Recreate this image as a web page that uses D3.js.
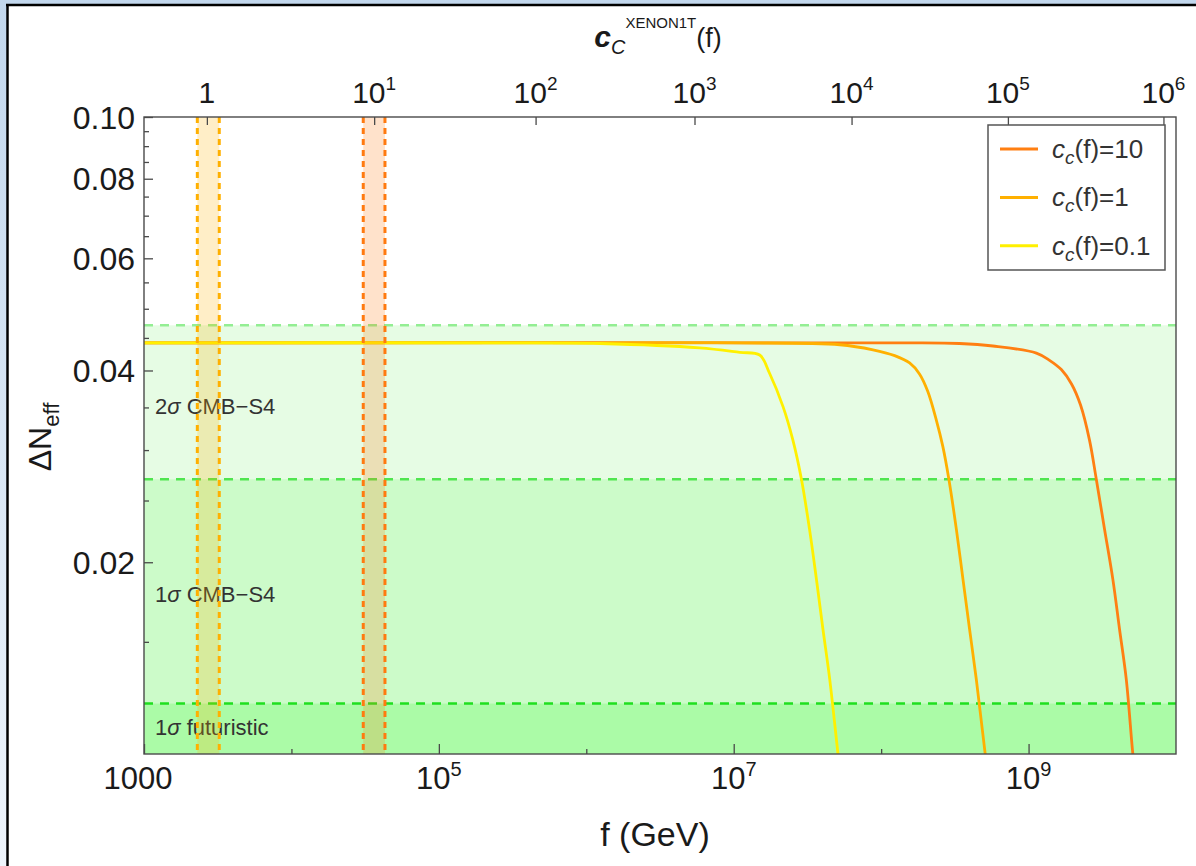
<!DOCTYPE html>
<html>
<head>
<meta charset="utf-8">
<title>Delta Neff vs f</title>
<script src="https://cdn.jsdelivr.net/npm/d3@7"></script>
<style>
  body { margin: 0; background: #fff; }
  svg text { font-family: "Liberation Sans", Arial, sans-serif; fill: #1a1a1a; }
  .frame { fill: none; stroke: #4a4a4a; stroke-width: 1.4px; }
  .tick line { stroke: #4a4a4a; stroke-width: 1.3px; }
  .domain { display: none; }
</style>
</head>
<body>
<svg id="chart" width="1196" height="866"></svg>
<script>
// ---- data (f in GeV, delta Neff) ----
var f_cc10 = [1e3, 1.33e8, 3.40e8, 5.73e8, 1.13e9, 1.388e9, 1.674e9, 1.956e9, 2.252e9, 2.59e9, 2.88e9, 3.28e9, 3.73e9, 4.14e9, 4.60e9, 5.10e9, 5.17e9];
var n_cc10 = [0.0442, 0.0442, 0.0441, 0.0437, 0.0426, 0.0415, 0.0401, 0.0381, 0.0353, 0.0311, 0.0270, 0.0225, 0.0188, 0.0157, 0.0131, 0.0100, 0.0098];

var f_cc1 = [1e3, 1.24e6, 1.10e7, 5.24e7, 8.80e7, 1.235e8, 1.56e8, 1.82e8, 2.07e8, 2.37e8, 2.62e8, 2.88e8, 3.24e8, 3.59e8, 3.98e8, 4.42e8, 5.08e8, 5.15e8];
var n_cc1 = [0.0442, 0.0442, 0.0442, 0.0439, 0.0431, 0.0422, 0.0411, 0.0395, 0.0371, 0.0334, 0.0304, 0.0270, 0.0225, 0.0188, 0.0157, 0.0131, 0.0100, 0.0098];

var f_cc01 = [1e3, 2.6e5, 1.24e6, 5.87e6, 1.10e7, 1.50e7, 1.75e7, 2.16e7, 2.52e7, 2.88e7, 3.27e7, 3.64e7, 4.03e7, 4.48e7, 5.10e7, 5.16e7];
var n_cc01 = [0.0442, 0.0442, 0.0441, 0.0434, 0.0427, 0.0423, 0.0396, 0.0351, 0.0311, 0.0270, 0.0225, 0.0188, 0.0157, 0.0131, 0.0100, 0.0098];

var seriesLabels = ["10", "1", "0.1"];

// sensitivity bands (upper edge of each shaded region)
var bandNames = ["2σ CMB-S4", "1σ CMB-S4", "1σ futuristic"];
var bandTops = [0.0471, 0.0270, 0.0120];

// XENON1T ranges in f for c_c = 1 and c_c = 10
var xenonBands = [[2.30e3, 3.24e3], [3.07e4, 4.31e4]];

// top axis: c_C^XENON1T(f) ticks and the f where they sit
var ccTicks = [1, 10, 100, 1e3, 1e4, 1e5, 1e6];
var ccAtF = [2.67e3, 3.64e4, 4.53e5, 5.42e6, 6.30e7, 7.24e8, 8.22e9];

var xMajor = [1e3, 1e5, 1e7, 1e9];
var xMinor = [1e4, 1e6, 1e8];
var yMajor = [0.02, 0.04, 0.06, 0.08, 0.10];
var yMinor = [0.015, 0.025, 0.03, 0.035, 0.045, 0.05, 0.055, 0.065, 0.07, 0.075, 0.085, 0.09, 0.095];

// ---- layout ----
var W = 1196, H = 866;
var L = 144, R = 1176, T = 117, B = 754;

var svg = d3.select("#chart");

// window-like frame
var defs = svg.append("defs");
var grad = defs.append("linearGradient").attr("id", "bg").attr("x1", 0).attr("y1", 0).attr("x2", 0).attr("y2", 1);
grad.append("stop").attr("offset", "0").attr("stop-color", "#c2d7ed");
grad.append("stop").attr("offset", "1").attr("stop-color", "#eef4fb");
defs.append("clipPath").attr("id", "plotclip")
    .append("rect").attr("x", L).attr("y", T).attr("width", R - L).attr("height", B - T);

svg.append("rect").attr("width", W).attr("height", H).attr("fill", "url(#bg)");
svg.append("rect").attr("x", 8).attr("y", 5).attr("width", W - 8).attr("height", H - 5).attr("fill", "#fff");
svg.append("line").attr("x1", 6).attr("x2", W).attr("y1", 5).attr("y2", 5).attr("stroke", "#000").attr("stroke-width", 2.5);
svg.append("line").attr("x1", 7.5).attr("x2", 7.5).attr("y1", 4).attr("y2", H).attr("stroke", "#000").attr("stroke-width", 2.5);

var x = d3.scaleLog().domain([1e3, 1e10]).range([L, R]);
var y = d3.scaleLog().domain([0.01, 0.1]).range([B, T]);
var xTop = d3.scaleLog().domain(ccTicks).range(ccAtF.map(function(f) { return x(f); }));

var plot = svg.append("g").attr("clip-path", "url(#plotclip)");

// green sensitivity regions
var greenFill = ["#e6fce4", "#ccfbc9", "#abfba7"];
var greenLine = ["#93ee93", "#4fe54f", "#1fdf1f"];
bandTops.forEach(function(v, i) {
  plot.append("rect")
    .attr("x", L).attr("width", R - L)
    .attr("y", y(v)).attr("height", B - y(v))
    .attr("fill", greenFill[i]);
});
bandTops.forEach(function(v, i) {
  plot.append("line")
    .attr("x1", L).attr("x2", R).attr("y1", y(v)).attr("y2", y(v))
    .attr("stroke", greenLine[i]).attr("stroke-width", 2.6)
    .attr("stroke-dasharray", "9,7");
});

// band labels
var labelY = [0.0352, 0.0178, 0.0110];
bandNames.forEach(function(name, i) {
  var parts = name.split("σ");
  var t = plot.append("text")
    .attr("x", L + 11).attr("y", y(labelY[i]))
    .attr("dy", "0.35em")
    .style("font-size", "22px").style("fill", "#333");
  t.append("tspan").text(parts[0]);
  t.append("tspan").style("font-style", "italic").text("σ");
  t.append("tspan").text(parts[1].replace("-", "\u2212"));
});

// curves
var colors = ["#ff7f12", "#ffb000", "#fff000"];
var series = [
  d3.zip(f_cc10, n_cc10),
  d3.zip(f_cc1, n_cc1),
  d3.zip(f_cc01, n_cc01)
];
var line = d3.line()
  .x(function(d) { return x(d[0]); })
  .y(function(d) { return y(d[1]); })
  .curve(d3.curveCatmullRom.alpha(0.5));

plot.selectAll("path.curve").data(series).enter().append("path")
  .attr("class", "curve")
  .attr("d", line)
  .attr("fill", "none")
  .attr("stroke", function(d, i) { return colors[i]; })
  .attr("stroke-width", 2.8)
  .attr("stroke-linejoin", "round");

// XENON1T vertical bands
var xenonColor = ["#ffb000", "#ff7a10"];
xenonBands.forEach(function(b, i) {
  plot.append("rect")
    .attr("x", x(b[0])).attr("width", x(b[1]) - x(b[0]))
    .attr("y", T).attr("height", B - T)
    .attr("fill", xenonColor[i]).attr("fill-opacity", 0.22);
  b.forEach(function(f) {
    plot.append("line")
      .attr("x1", x(f)).attr("x2", x(f)).attr("y1", T).attr("y2", B)
      .attr("stroke", xenonColor[i]).attr("stroke-width", 3)
      .attr("stroke-dasharray", "6,5");
  });
});

// frame
svg.append("rect").attr("class", "frame")
  .attr("x", L).attr("y", T).attr("width", R - L).attr("height", B - T);

// bottom axis ticks
svg.append("g").attr("transform", "translate(0," + B + ")")
  .call(d3.axisBottom(x).tickValues(xMajor).tickSize(-10).tickFormat(""));
svg.append("g").attr("transform", "translate(0," + B + ")")
  .call(d3.axisBottom(x).tickValues(xMinor).tickSize(-5).tickFormat(""));

// left axis ticks
svg.append("g").attr("transform", "translate(" + L + ",0)")
  .call(d3.axisLeft(y).tickValues(yMajor).tickSize(-9).tickFormat(""));
svg.append("g").attr("transform", "translate(" + L + ",0)")
  .call(d3.axisLeft(y).tickValues(yMinor).tickSize(-5).tickFormat(""));

// top axis ticks
svg.append("g").attr("transform", "translate(0," + T + ")")
  .call(d3.axisTop(xTop).tickValues(ccTicks).tickSize(-8).tickFormat(""));

function expOf(v) { return Math.round(Math.log10(v)); }

function powerLabel(g, px, py, v, plain, size, supSize) {
  var t = g.append("text").attr("x", px).attr("y", py)
    .attr("text-anchor", "middle").style("font-size", size + "px");
  if (plain) { t.text(plain); return t; }
  t.append("tspan").text("10");
  t.append("tspan").attr("dy", -size * 0.42).style("font-size", supSize + "px").text(expOf(v));
  return t;
}

// bottom labels
xMajor.forEach(function(v) {
  var t = powerLabel(svg, x(v), 789, v, v === 1e3 ? "1000" : null, 31, 20);
  if (v === 1e3) t.attr("dx", -6);
});

// left labels
yMajor.forEach(function(v) {
  svg.append("text")
    .attr("x", L - 9).attr("y", y(v)).attr("dy", "0.36em")
    .attr("text-anchor", "end").style("font-size", "32px")
    .text(v.toFixed(2));
});

// top labels
ccTicks.forEach(function(v) {
  powerLabel(svg, xTop(v), 103, v, v === 1 ? "1" : null, 30, 19);
});

// axis titles
svg.append("text").attr("x", (L + R) / 2 - 5).attr("y", 846)
  .attr("text-anchor", "middle").style("font-size", "34px").text("f (GeV)");

var yt = svg.append("text")
  .attr("transform", "translate(51," + 437 + ") rotate(-90)")
  .attr("text-anchor", "middle").style("font-size", "32px");
yt.append("tspan").text("ΔN");
yt.append("tspan").attr("dy", 8).style("font-size", "22px").text("eff");

var tt = svg.append("text").attr("x", (L + R) / 2 - 2).attr("y", 47)
  .attr("text-anchor", "middle").style("font-size", "27px");
tt.append("tspan").style("font-weight", "bold").style("font-style", "italic").style("font-size", "30px").text("c");
tt.append("tspan").attr("dy", 7).style("font-style", "italic").style("font-size", "20px").text("C");
tt.append("tspan").attr("dy", -26).style("font-size", "15px").text("XENON1T");
tt.append("tspan").attr("dy", 19).text("(f)");

// legend
var lg = svg.append("g");
lg.append("rect").attr("x", 988).attr("y", 125).attr("width", 177).attr("height", 145)
  .attr("fill", "#fff").attr("stroke", "#555").attr("stroke-width", 1.5);
seriesLabels.forEach(function(lab, i) {
  var ly = 149 + i * 48.4;
  lg.append("line").attr("x1", 1000).attr("x2", 1038).attr("y1", ly).attr("y2", ly)
    .attr("stroke", colors[i]).attr("stroke-width", 3);
  var t = lg.append("text").attr("x", 1052).attr("y", ly + 9).style("font-size", "26px").style("fill", "#333");
  t.append("tspan").style("font-style", "italic").text("c");
  t.append("tspan").attr("dy", 6).style("font-style", "italic").style("font-size", "19px").text("c");
  t.append("tspan").attr("dy", -6).text("(f)=" + lab);
});
</script>
</body>
</html>
